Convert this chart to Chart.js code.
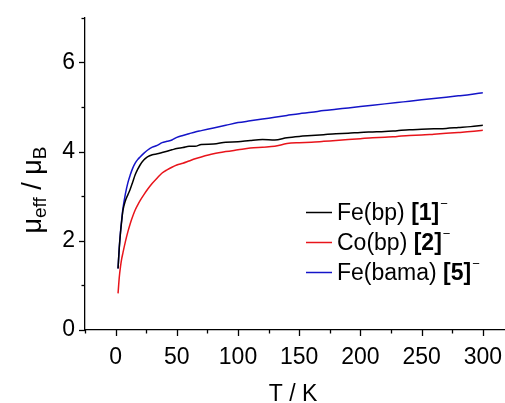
<!DOCTYPE html>
<html>
<head>
<meta charset="utf-8">
<script src="https://cdn.jsdelivr.net/npm/chart.js@4.4.1/dist/chart.umd.min.js"></script>
<style>
html,body{margin:0;padding:0;background:#fff;overflow:hidden;}
#wrap{width:505px;height:403px;position:relative;overflow:hidden;}
</style>
</head>
<body>
<div id="wrap"><canvas id="c" width="510" height="403"></canvas></div>
<script>
// ---- data ----
const temps = [2,3,4,5,6,8,10,12,14,16,18,20,23,26,30,34,38,42,46,50,55,60,65,70,80,90,100,110,120,130,140,150,160,170,180,190,200,210,220,230,240,250,260,270,280,290,300];
const muFeBp = [1.38,1.84,2.18,2.45,2.68,2.9,3.03,3.16,3.32,3.48,3.6,3.7,3.81,3.88,3.93,3.95,3.98,4.01,4.04,4.07,4.09,4.12,4.12,4.16,4.17,4.21,4.22,4.25,4.27,4.26,4.31,4.34,4.36,4.38,4.4,4.41,4.43,4.44,4.45,4.47,4.49,4.5,4.51,4.52,4.54,4.56,4.59];
const muCoBp = [0.82,1.18,1.42,1.6,1.73,1.98,2.2,2.39,2.55,2.69,2.8,2.9,3.03,3.15,3.29,3.41,3.52,3.59,3.65,3.7,3.74,3.79,3.84,3.88,3.95,4.0,4.04,4.08,4.1,4.12,4.18,4.2,4.21,4.23,4.25,4.27,4.29,4.31,4.32,4.34,4.36,4.37,4.39,4.41,4.43,4.45,4.48];
const muFeBama = [1.38,1.85,2.2,2.48,2.72,3.05,3.3,3.48,3.63,3.74,3.82,3.88,3.96,4.03,4.1,4.14,4.2,4.23,4.26,4.32,4.36,4.4,4.44,4.47,4.53,4.59,4.65,4.69,4.73,4.77,4.81,4.85,4.88,4.92,4.95,4.98,5.01,5.04,5.07,5.1,5.13,5.16,5.19,5.22,5.25,5.28,5.32];
const seriesNames = ["Fe(bp)","Co(bp)","Fe(bama)"];
const seriesNums = ["1","2","5"];
const seriesColors = ["#000000","#e8141b","#1414c8"];
const xMajorLabels = [0,50,100,150,200,250,300];
const yMajorLabels = [0,2,4,6];

const FONT = "'Liberation Sans', Arial, sans-serif";
const toXY = arr => arr.map((v,i)=>({x:temps[i], y:v}));

const tickPlugin = {
  id:'ticksAndText',
  afterDraw(chart){
    const ctx = chart.ctx, xs = chart.scales.x, ys = chart.scales.y, ca = chart.chartArea;
    ctx.save();
    ctx.strokeStyle = '#000'; ctx.lineWidth = 1.3;
    for (let v = -25; v <= xs.max; v += 25) {
      const px = Math.round(xs.getPixelForValue(v)) + 0.5;
      const len = (v % 50 === 0) ? 6 : 3.5;
      ctx.beginPath(); ctx.moveTo(px, ca.bottom); ctx.lineTo(px, ca.bottom + len); ctx.stroke();
    }
    for (let v = 0; v <= ys.max; v += 1) {
      const py = Math.round(ys.getPixelForValue(v)) + 0.5;
      const len = (v % 2 === 0) ? 6 : 3.5;
      ctx.beginPath(); ctx.moveTo(ca.left, py); ctx.lineTo(ca.left - len, py); ctx.stroke();
    }
    ctx.fillStyle = '#000';
    ctx.font = "23px " + FONT;
    ctx.textAlign = 'center'; ctx.textBaseline = 'alphabetic';
    ctx.fillText('T / K', xs.getPixelForValue(145), 401);
    // y title with subscripts
    ctx.save();
    ctx.translate(41, 190);
    ctx.rotate(-Math.PI/2);
    const parts = [
      {t:'\u03bc', f:"27px "+FONT, dy:0},
      {t:'eff', f:"19px "+FONT, dy:5},
      {t:' / ', f:"27px "+FONT, dy:0},
      {t:'\u03bc', f:"27px "+FONT, dy:0},
      {t:'B', f:"19px "+FONT, dy:5}
    ];
    let total = 0;
    parts.forEach(p=>{ctx.font=p.f; p.w=ctx.measureText(p.t).width; total+=p.w;});
    let x0 = -total/2;
    ctx.textAlign='left';
    parts.forEach(p=>{ctx.font=p.f; ctx.fillText(p.t, x0, p.dy); x0+=p.w;});
    ctx.restore();
    // legend
    const rowsY = [212, 242, 272];
    for (let i = 0; i < 3; i++) {
      const y = rowsY[i];
      ctx.strokeStyle = seriesColors[i]; ctx.lineWidth = 1.5;
      ctx.beginPath(); ctx.moveTo(306, y + 0.5); ctx.lineTo(332, y + 0.5); ctx.stroke();
      ctx.fillStyle = '#000'; ctx.textAlign = 'left'; ctx.textBaseline = 'alphabetic';
      let x = 337; const base = y + 8;
      ctx.font = "23px " + FONT; const a = seriesNames[i] + ' ';
      ctx.fillText(a, x, base); x += ctx.measureText(a).width;
      ctx.font = "bold 23px " + FONT; const b = '[' + seriesNums[i] + ']';
      ctx.fillText(b, x, base); x += ctx.measureText(b).width;
      ctx.font = "13px " + FONT;
      ctx.fillText('\u2212', x + 1, base - 12);
    }
    ctx.restore();
  }
};

new Chart(document.getElementById('c'), {
  type: 'scatter',
  data: {
    datasets: [
      {label: seriesNames[0], data: toXY(muFeBp), borderColor: seriesColors[0]},
      {label: seriesNames[1], data: toXY(muCoBp), borderColor: seriesColors[1]},
      {label: seriesNames[2], data: toXY(muFeBama), borderColor: seriesColors[2]}
    ].map(d => Object.assign(d, {showLine:true, pointRadius:0, borderWidth:1.5, cubicInterpolationMode:'monotone', fill:false}))
  },
  options: {
    responsive:false, animation:false, devicePixelRatio:1,
    layout:{padding:{top:15,left:0,right:0,bottom:0}},
    plugins:{legend:{display:false}, tooltip:{enabled:false}},
    scales:{
      x:{
        type:'linear', min:-25, max:318,
        afterFit(s){ s.height = 73; },
        border:{display:true, color:'#000', width:1.3},
        grid:{display:true, drawOnChartArea:false, drawTicks:true, tickLength:6, color:'rgba(0,0,0,0)'},
        ticks:{stepSize:25, includeBounds:false, autoSkip:false, maxRotation:0, padding:8, color:'#000',
          font:{family:FONT, size:23},
          callback:(v)=> xMajorLabels.includes(v) ? String(v) : ''}
      },
      y:{
        type:'linear', min:0, max:7,
        afterFit(s){ s.width = 85; },
        border:{display:true, color:'#000', width:1.3},
        grid:{display:true, drawOnChartArea:false, drawTicks:true, tickLength:6, color:'rgba(0,0,0,0)'},
        ticks:{stepSize:1, autoSkip:false, padding:4, color:'#000',
          font:{family:FONT, size:23},
          callback:(v)=> yMajorLabels.includes(v) ? String(v) : ''}
      }
    }
  },
  plugins:[tickPlugin]
});
</script>
</body>
</html>
